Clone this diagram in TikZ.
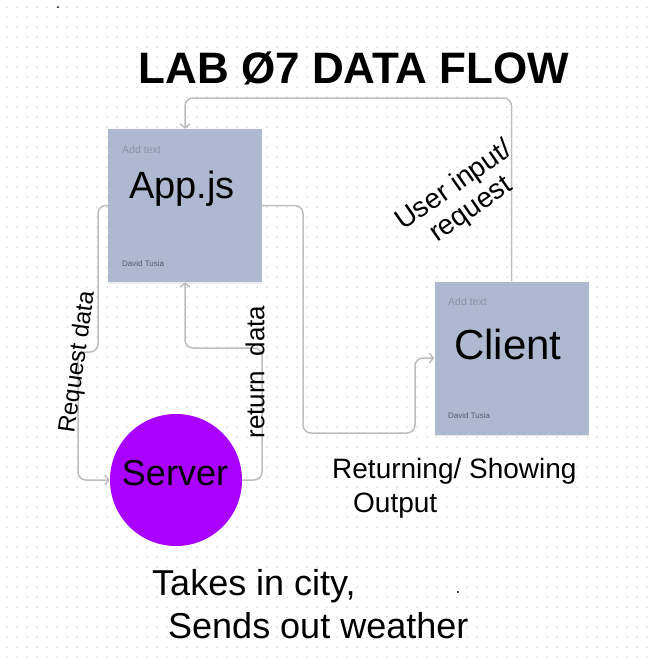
\documentclass[tikz,border=0pt]{standalone}
\usepackage{fontspec}
\setmainfont{Liberation Sans}
\usetikzlibrary{arrows.meta,shadows}
\definecolor{notefill}{HTML}{AEB8D0}
\definecolor{hintgray}{HTML}{8B92A5}
\definecolor{authgray}{HTML}{555B6B}
\definecolor{linegray}{HTML}{BDBDBD}
\definecolor{dotgray}{HTML}{C4C4C4}
\definecolor{srvpurple}{HTML}{AA00FF}

\begin{document}
\begin{tikzpicture}[x=1pt,y=-1pt,
    note/.style={fill=notefill, minimum width=154pt, minimum height=153pt, inner sep=0pt,
      drop shadow={shadow xshift=0pt, shadow yshift=-1.5pt, opacity=0.15}},
    hint/.style={anchor=west, text=hintgray, inner sep=0pt, font=\fontsize{10.5}{12}\selectfont},
    author/.style={anchor=west, text=authgray, inner sep=0pt, font=\fontsize{8}{10}\selectfont},
    hand/.style={inner sep=0pt},
    flow/.style={draw=linegray, line width=1.5pt, rounded corners=8pt,
      -{Straight Barb[length=4pt,width=10pt]}}]
    \useasboundingbox (0,0) rectangle (648,665);

    \foreach \i in {0,...,64}
        \foreach \j in {0,...,65}
            \fill[dotgray] (7+10*\i,7+10*\j) circle[radius=0.75];
    \fill (58,7) circle[radius=1];
    \fill (458,592) circle[radius=1.2];

    \node[note] (app) at (185,205.5) {};
    \node[note] (client) at (511.5,358) {};
    \node[circle, fill=srvpurple, minimum size=132pt, inner sep=0pt] (server) at (176,480) {};

    \node[hint] (apphint) at (122,150) {Add text};
    \node[author] (appauthor) at (122,264) {David Tusia};
    \node[hint] (clienthint) at (448,302) {Add text};
    \node[author] (clientauthor) at (448,416) {David Tusia};

    \node[hand, anchor=base west, font=\fontsize{38}{40}\selectfont] (appname) at (129,198) {App.js};
    \node[hand, anchor=base west, font=\fontsize{42}{44}\selectfont] (clientname) at (454,359) {Client};
    \node[hand, anchor=base, font=\fontsize{36}{38}\selectfont] (servername) at (175,485) {Server};

    \node[hand, anchor=base, font=\bfseries\fontsize{44}{46}\selectfont] (title) at (354,83) {LAB Ø7 DATA FLOW};

    \draw[flow] (client.north) -- (511.5,98) -- (185,98) -- (app.north);
    \draw[flow] (app.west) -- (98,205.5) -- (98,352) -- (78,352) -- (78,480) -- (server.west);
    \draw[flow] (server.east) -- (262,480) -- (262,348) -- (185,348) -- (app.south);
    \draw[flow] (app.east) -- (303,205.5) -- (303,433) -- (415,433) -- (415,358) -- (client.west);

    \node[hand, rotate=82, font=\fontsize{24}{26}\selectfont] (reqlabel) at (78,362) {Request data};
    \node[hand, rotate=90, font=\fontsize{26}{28}\selectfont] (retlabel) at (255,372) {return\ \ data};
    \node[hand, rotate=35, align=center, font=\fontsize{28}{29}\selectfont] (userlabel) at (463,198) {User input/\\request};
    \node[hand, anchor=base west, font=\fontsize{28}{30}\selectfont] (outlabel) at (332,478) {Returning/ Showing};
    \node[hand, anchor=base west, font=\fontsize{28}{30}\selectfont] (outlabeltwo) at (353,512) {Output};
    \node[hand, anchor=base west, font=\fontsize{36}{38}\selectfont] (takes) at (152,595) {Takes in city,};
    \node[hand, anchor=base west, font=\fontsize{36}{38}\selectfont] (sends) at (168,638) {Sends out weather};
\end{tikzpicture}
\end{document}
